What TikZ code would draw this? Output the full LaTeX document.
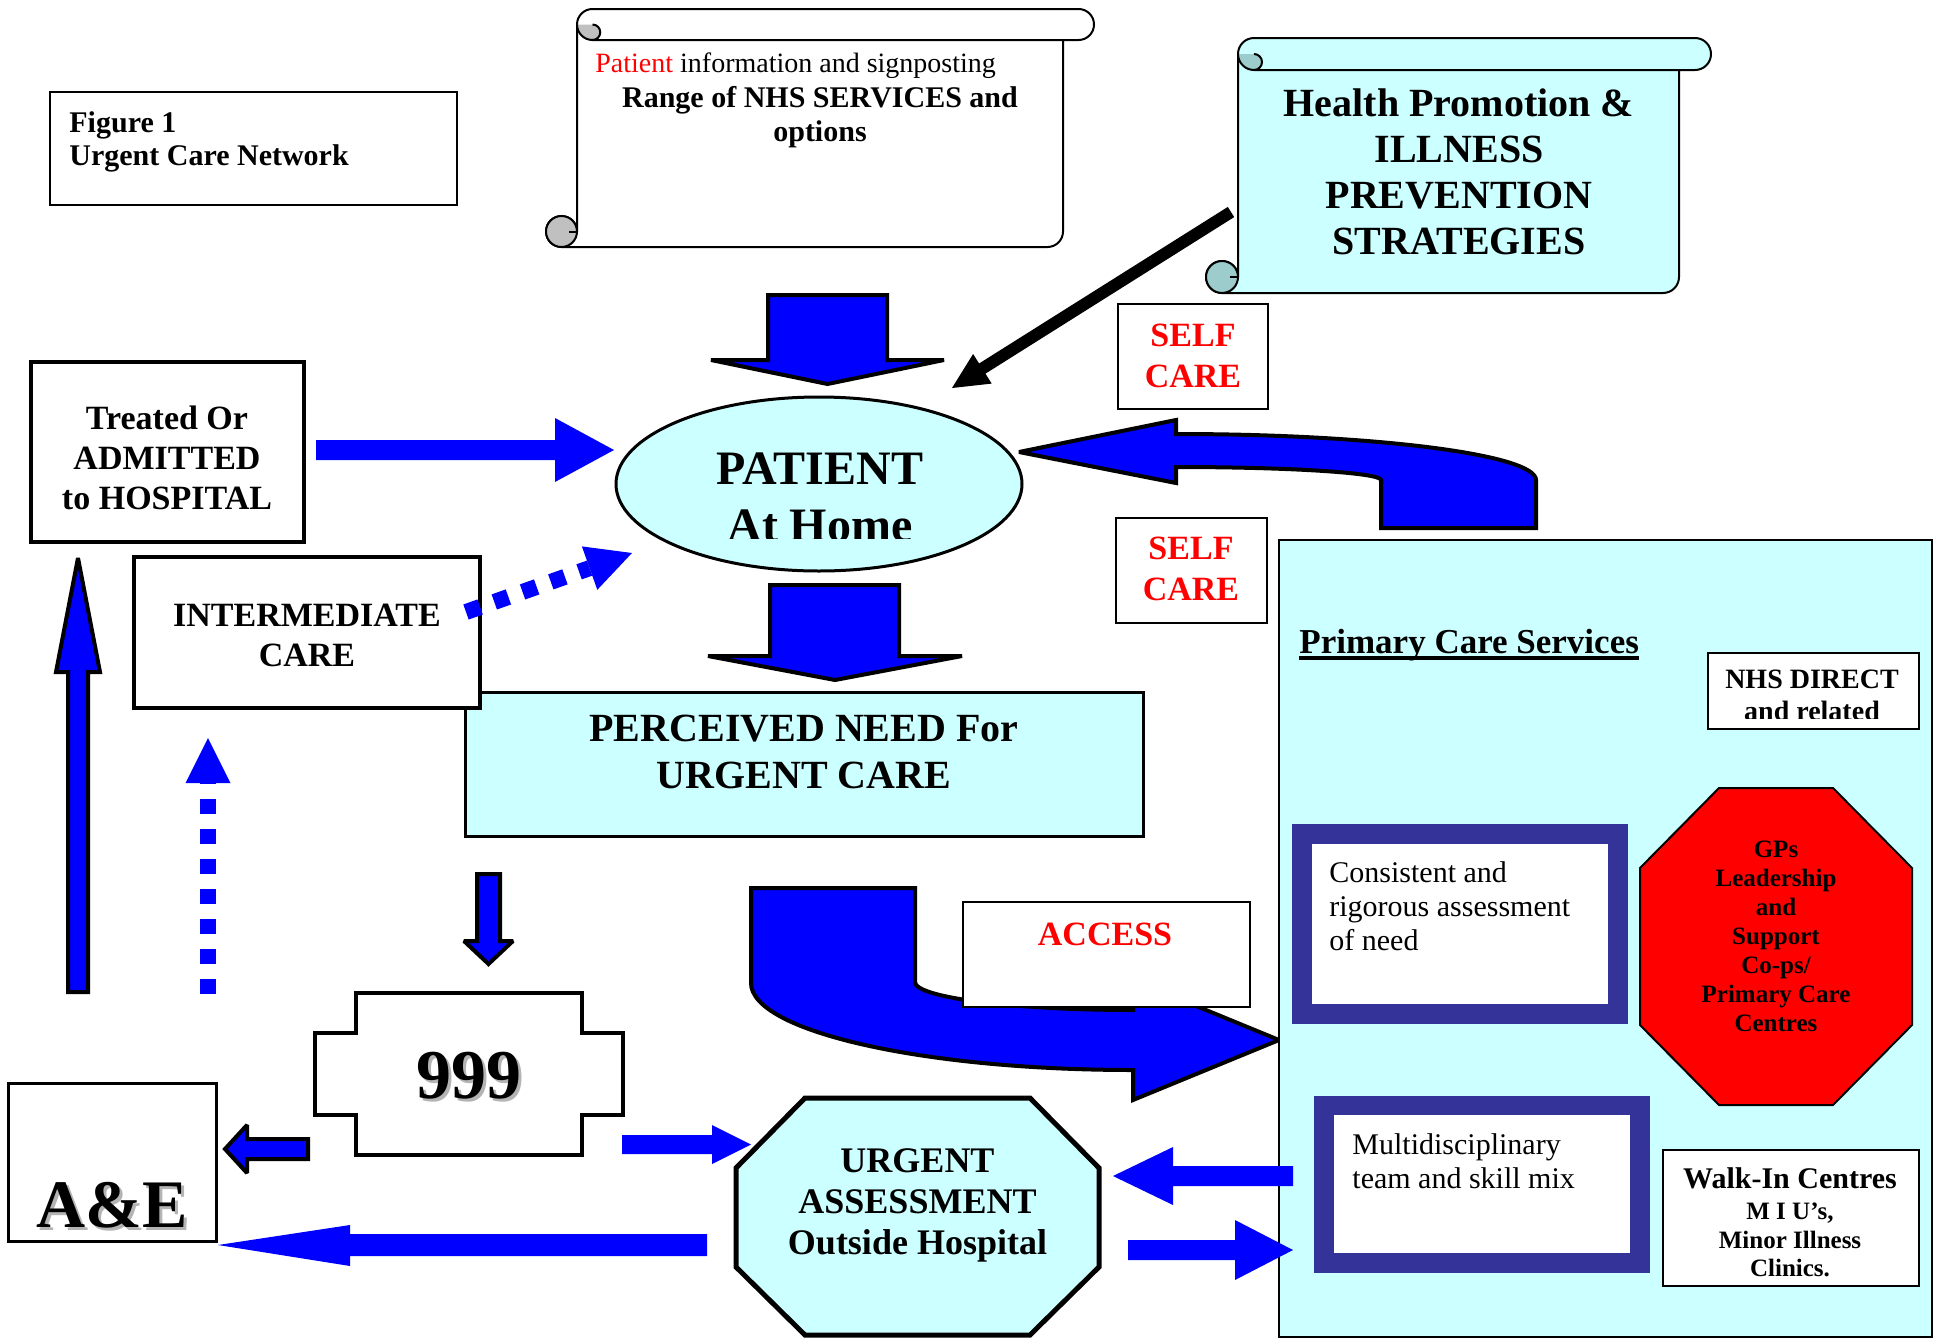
\documentclass[tikz,border=0pt]{standalone}
\usepackage{fontspec}
\setmainfont{Liberation Serif}
\usetikzlibrary{shapes.geometric,calc}
\definecolor{lcyan}{HTML}{CCFFFF}
\definecolor{bblue}{HTML}{0000FF}
\definecolor{navy}{HTML}{333399}
\definecolor{curlgray}{HTML}{C0C0C0}
\definecolor{curlteal}{HTML}{9CCCCC}
\definecolor{shadowgray}{HTML}{B4B4B4}
\newcommand{\fs}[2]{\fontsize{#1}{#2}\selectfont}
% #1 L, #2 R, #3 T, #4 B, #5 r, #6 body colour, #7 curl colour
\newcommand{\drawscroll}[7]{%
  \draw[line width=1pt, fill=#6]
    (#1,{#3+#5}) arc[start angle=180, end angle=270, radius=#5]
    -- ({#2+#5},#3) arc[start angle=270, end angle=450, radius=#5]
    -- (#2,{#3+2*#5}) -- (#2,{#4-#5}) arc[start angle=0, end angle=90, radius=#5]
    -- ({#1-#5},#4) arc[start angle=90, end angle=360, radius=#5]
    -- cycle;
  \fill[#7] (#1,{#3+#5}) arc[start angle=180, end angle=90, radius=#5]
    arc[start angle=90, end angle=-90, radius={#5/2}] -- cycle;
  \draw[line width=1pt] ({#1+#5},{#3+2*#5}) arc[start angle=90, end angle=-90, radius={#5/2}];
  \draw[line width=1pt] (#1,{#3+#5}) arc[start angle=180, end angle=90, radius=#5] -- (#2,{#3+2*#5});
  \filldraw[line width=1pt, fill=#7] ({#1-#5},{#4-#5}) circle[radius=#5];
  \draw[line width=1pt] (#1,{#4-2*#5}) -- (#1,{#4-#5}) -- ({#1-#5/2},{#4-#5});
}
\begin{document}
\begin{tikzpicture}[x=0.5pt,y=-0.5pt,
  bx/.style={draw, fill=white, inner sep=0pt, line width=1.5pt},
  lbl/.style={inner sep=0pt, align=center},
  blockarrow/.style={draw=black, line width=2pt, fill=bblue, miter limit=2},
  flatarrow/.style={fill=bblue},
  dotline/.style={draw=bblue, line width=8pt, dash pattern=on 7.5pt off 7.5pt},
  redtxt/.style={lbl, text=red, font=\bfseries\fs{17}{20.5}},
]
\useasboundingbox (0,0) rectangle (1934,1339);
\fill[white] (0,0) rectangle (1934,1339);

% Figure box
\node[bx, line width=1pt, minimum width=203.5pt, minimum height=56.5pt] (fig) at (253.5,148.5) {};
\node[inner sep=0pt, align=left, anchor=west, font=\bfseries\fs{15}{16.5}] (figtxt) at (69,142) {Figure 1\\Urgent Care Network};

% Scroll 1
\drawscroll{577}{1063}{9}{247}{15.5}{white}{curlgray}
\node[inner sep=0pt, anchor=west, font=\fs{14}{16}] (info) at (595,66) {\textcolor{red}{Patient} information and signposting};
\node[lbl, font=\bfseries\fs{15}{17}] (range) at (820,117) {Range of NHS SERVICES and\\options};

% Scroll 2
\drawscroll{1238}{1679}{38}{293}{16}{lcyan}{curlteal}
\node[lbl, font=\bfseries\fs{20}{23}] (health) at (1459,172) {Health Promotion \&\\ILLNESS\\PREVENTION\\STRATEGIES};

% black arrow health -> patient
\coordinate (hpA) at (1231,212);
\coordinate (hpBase) at (980,370);
\coordinate (hpTip) at (952,388);
\draw[line width=6pt] (hpA) -- (hpBase);
\fill[black] (hpTip) -- (991.7,383.6) -- (973.1,354.0) -- cycle;

% down arrow 1
\draw[blockarrow] (768,295) -- (887,295) -- (887,360) -- (944,360) -- (827.5,384) -- (711,360) -- (768,360) -- cycle;

% return curved arrow (primary -> patient)
\draw[blockarrow] (1536,528) -- (1536,480) arc[start angle=0, end angle=-90, x radius=360, y radius=46]
  -- (1176,420) -- (1019,452) -- (1176,483) -- (1176,467)
  arc[start angle=-90, end angle=0, x radius=205, y radius=13] -- (1381,528) -- cycle;

% Patient ellipse
\node[ellipse, draw, fill=lcyan, line width=1.5pt, inner sep=0pt, minimum width=203pt, minimum height=87pt] (patient) at (819,484) {};
\begin{scope}
\clip (610,395) rectangle (1030,538);
\node[lbl, font=\bfseries\fs{24}{28.5}] (patienttxt) at (820,497) {PATIENT\\At Home};
\end{scope}

% Treated box
\node[bx, line width=1.7pt, minimum width=136.5pt, minimum height=90pt] (treated) at (167.5,452) {};
\node[lbl, font=\bfseries\fs{17}{20}] (treatedtxt) at (167,458) {Treated Or\\ADMITTED\\to HOSPITAL};
% arrow treated -> patient
\fill[bblue] (316,440) -- (555,440) -- (555,418) -- (614,450) -- (555,482) -- (555,460) -- (316,460) -- cycle;

% Perceived need
\node[bx, fill=lcyan, minimum width=339pt, minimum height=72pt] (need) at (804,764) {};
\node[lbl, font=\bfseries\fs{20}{23.5}] (needtxt) at (804,752) {PERCEIVED NEED For\\URGENT CARE};

% Intermediate care
\node[bx, line width=1.7pt, minimum width=173pt, minimum height=75.5pt] (inter) at (307,632.5) {};
\node[lbl, font=\bfseries\fs{17}{20}] (intertxt) at (307,635) {INTERMEDIATE\\CARE};

% dotted arrow intermediate -> patient
\coordinate (icA) at (466,612);
\coordinate (icBase) at (589.6,568.1);
\coordinate (icTip) at (632,553);
\draw[dotline] (icA) -- (icBase);
\fill[bblue] (icTip) -- (597.3,589.8) -- (581.9,546.4) -- cycle;

% down arrow 2
\draw[blockarrow] (770,585) -- (899,585) -- (899,656) -- (962,656) -- (835,680) -- (708,656) -- (770,656) -- cycle;

% left up arrow (A&E -> hospital)
\draw[blockarrow] (68,992) -- (68,672) -- (56,672) -- (78,558) -- (100,672) -- (88,672) -- (88,992) -- cycle;
% dotted up arrow
\coordinate (dvA) at (208,994);
\coordinate (dvBase) at (208,783);
\draw[dotline] (dvA) -- (dvBase);
\fill[bblue] (208,738) -- (230.5,783) -- (185.5,783) -- cycle;

% small down arrow need -> 999
\draw[blockarrow] (477,874) -- (500,874) -- (500,941) -- (513,941) -- (488.5,964) -- (464,941) -- (477,941) -- cycle;

% 999 shape
\draw[line width=2.2pt, fill=white] (356,993) -- (582,993) -- (582,1033) -- (623,1033) -- (623,1115) -- (582,1115)
  -- (582,1155) -- (356,1155) -- (356,1115) -- (315,1115) -- (315,1033) -- (356,1033) -- cycle;
\node[lbl, text=shadowgray, font=\bfseries\fs{35}{40}] at (472,1079) {999};
\node[lbl, font=\bfseries\fs{35}{40}] (n999) at (469,1076) {999};

% A&E
\node[bx, minimum width=104pt, minimum height=79pt] (ae) at (112,1162) {};
\node[lbl, text=shadowgray, font=\bfseries\fs{34}{40}] at (115,1208) {A\&E};
\node[lbl, font=\bfseries\fs{34}{40}] (aetxt) at (112,1205) {A\&E};

% 999 -> A&E
\draw[blockarrow] (308,1139) -- (247,1139) -- (247,1125) -- (225,1149) -- (247,1173) -- (247,1159) -- (308,1159) -- cycle;
% 999 -> urgent
\fill[bblue] (622,1135) -- (712,1135) -- (712,1125) -- (751,1144.5) -- (712,1164) -- (712,1154) -- (622,1154) -- cycle;
% urgent -> A&E
\fill[bblue] (707,1234) -- (350,1234) -- (350,1225) -- (218,1245) -- (350,1266) -- (350,1256) -- (707,1256) -- cycle;

% Primary care box
\node[draw, fill=lcyan, line width=1.3pt, inner sep=0pt, minimum width=326.5pt, minimum height=398.5pt] (primary) at (1605.5,938.5) {};

% self care boxes
\node[bx, line width=0.8pt, minimum width=75pt, minimum height=52.5pt] (self1) at (1193,356.5) {};
\node[redtxt] (self1txt) at (1193,355.5) {SELF\\CARE};
\node[bx, line width=0.8pt, minimum width=75.5pt, minimum height=52.5pt] (self2) at (1191.5,570.5) {};
\node[redtxt] (self2txt) at (1191,568.5) {SELF\\CARE};

% ACCESS arrow
\draw[blockarrow] (751,888) -- (915,888) -- (915,982) arc[start angle=180, end angle=90, x radius=218, y radius=28]
  -- (1133,980) -- (1279,1040) -- (1133,1100) -- (1133,1070)
  arc[start angle=90, end angle=180, x radius=382, y radius=87] -- cycle;
\node[bx, line width=1pt, minimum width=143.5pt, minimum height=52.5pt] (access) at (1106.5,954.5) {};
\node[lbl, text=red, font=\bfseries\fs{17}{20}] (accesstxt) at (1105,934) {ACCESS};

% inside primary care
\node[inner sep=0pt, anchor=base west, font=\bfseries\fs{17.5}{20}] (pcs) at (1299,653) {Primary Care Services};
\draw[line width=2pt] ([yshift=-2.5pt]pcs.base west) -- ([yshift=-2.5pt]pcs.base east);

\node[bx, line width=1pt, minimum width=105.5pt, minimum height=38pt] (nhsd) at (1813.5,691) {};
\begin{scope}
\clip (1700,650) rectangle (1925,718);
\node[lbl, font=\bfseries\fs{14}{16}] (nhsdtxt) at (1812,695) {NHS DIRECT\\and related};
\end{scope}

\node[draw=navy, fill=white, line width=9.75pt, inner sep=0pt, minimum width=158pt, minimum height=90pt] (assess) at (1459.75,924) {};
\node[inner sep=0pt, align=left, anchor=west, font=\fs{15}{17}] (assesstxt) at (1329,906) {Consistent and\\rigorous assessment\\of need};

\draw[line width=1pt, fill=red] (1719,788) -- (1833,788) -- (1912,868) -- (1912,1025) -- (1833,1105) -- (1719,1105) -- (1640,1025) -- (1640,868) -- cycle;
\node[lbl, font=\bfseries\fs{12.5}{14.5}] (gps) at (1776,936) {GPs\\Leadership\\and\\Support\\Co-ps/\\Primary Care\\Centres};

\node[draw=navy, fill=white, line width=9.75pt, inner sep=0pt, minimum width=158pt, minimum height=78.75pt] (mdt) at (1482,1184.25) {};
\node[inner sep=0pt, align=left, anchor=west, font=\fs{15}{17}] (mdttxt) at (1352,1161) {Multidisciplinary\\team and skill mix};

\node[bx, line width=1pt, minimum width=128pt, minimum height=68pt] (walkin) at (1791,1218) {};
\node[lbl, font=\bfseries\fs{15}{17}] (walkintxt) at (1790,1178) {Walk-In Centres};
\node[lbl, font=\bfseries\fs{12.5}{14.25}] (miu) at (1790,1240) {M I U’s,\\Minor Illness\\Clinics.};

% Urgent assessment octagon
\draw[line width=2.5pt, fill=lcyan] (805,1098) -- (1030,1098) -- (1099,1168) -- (1099,1267) -- (1030,1335) -- (805,1335) -- (736,1267) -- (736,1168) -- cycle;
\node[lbl, font=\bfseries\fs{18}{20.5}] (urgent) at (917.5,1205) {URGENT\\ASSESSMENT\\Outside Hospital};

% primary -> urgent, urgent -> primary
\fill[bblue] (1293,1166) -- (1173,1166) -- (1173,1147) -- (1113,1176) -- (1173,1205) -- (1173,1186) -- (1293,1186) -- cycle;
\fill[bblue] (1128,1240) -- (1235,1240) -- (1235,1220) -- (1293,1250) -- (1235,1280) -- (1235,1260) -- (1128,1260) -- cycle;
\end{tikzpicture}
\end{document}
